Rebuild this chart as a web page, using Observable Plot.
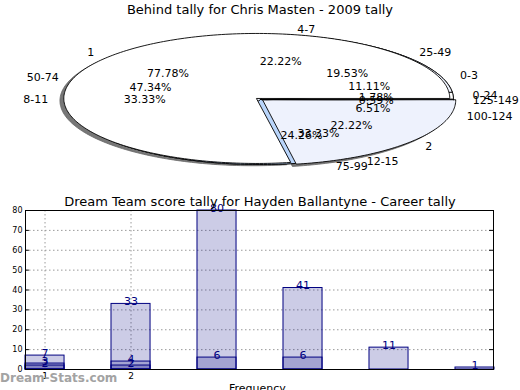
<!DOCTYPE html>
<html>
<head>
<meta charset="utf-8">
<script src="https://cdn.jsdelivr.net/npm/d3@7"></script>
<script src="https://cdn.jsdelivr.net/npm/@observablehq/plot@0.6"></script>
<style>
  body { margin: 0; background: white; }
  #wrap { position: relative; width: 520px; height: 390px; overflow: hidden; background: white; font-family: "DejaVu Sans", sans-serif; }
  #wrap svg { position: absolute; left: 0; overflow: visible; }
  .title { position: absolute; left: 0; width: 520px; text-align: center; font-size: 13px; color: #000; }
</style>
</head>
<body>
<div id="wrap">
  <div id="pie"></div>
  <div id="bar"></div>
  <div class="title" style="top:2px">Behind tally for Chris Masten - 2009 tally</div>
  <div class="title" style="top:194px">Dream Team score tally for Hayden Ballantyne - Career tally</div>
  <div style="position:absolute;left:229px;top:382px;font-size:11px;">Frequency</div>
  <div style="position:absolute;left:0px;top:371px;font-size:12px;font-weight:bold;color:#a3a3a3;">Dream-Stats.com</div>
</div>
<script>
// ---------- Data: pie chart (three overlaid pies) ----------
const pieALabels = ["1", "2"];
const pieAValues = [77.78, 22.22];
const pieBLabels = ["0-3", "4-7", "8-11", "12-15"];
const pieBValues = [11.11, 22.22, 33.33, 33.33];
const pieCLabels = ["0-24", "25-49", "50-74", "75-99", "100-124", "125-149"];
const pieCValues = [1.78, 19.53, 47.34, 24.26, 6.51, 0.59];

// ---------- Data: bar chart ----------
const barX = [1, 2, 3, 4, 5, 6];
const tallyAll = [7, 33, 80, 41, 11, 1];
const tallyMid = [3, 4, 6, 6, 0, 0];
const tallyLow = [2, 2, 0, 0, 0, 0];
const yTicks = [0, 10, 20, 30, 40, 50, 60, 70, 80];
const xTicks = [1, 2];

// ---------- Pie geometry helpers ----------
function slices(pie, labels, values, explode, fills) {
  const total = d3.sum(values);
  let a0 = 0;
  return labels.map((lab, i) => {
    const a1 = a0 + values[i] / total * 2 * Math.PI;
    const mid = (a0 + a1) / 2;
    const e = explode[i] || 0;
    const s = {pie, id: pie + i, label: lab, pct: (values[i] / total * 100).toFixed(2) + "%",
      a0, a1, mid, cx: e * Math.cos(mid), cy: e * Math.sin(mid), fill: fills[i]};
    a0 = a1;
    return s;
  });
}
function polygon(s, r, ox = 0, oy = 0) {
  const pts = [{id: s.id, x: s.cx + ox, y: s.cy + oy}];
  const n = Math.max(2, Math.ceil((s.a1 - s.a0) / 0.02));
  for (let k = 0; k <= n; k++) {
    const a = s.a0 + (s.a1 - s.a0) * k / n;
    pts.push({id: s.id, x: s.cx + ox + r * Math.cos(a), y: s.cy + oy + r * Math.sin(a)});
  }
  return pts;
}
const LB = "#eef2fd", BLUE = "#b9d5fb";
const sB = slices("B", pieBLabels, pieBValues, [], [LB, LB, LB, LB]);
const sC = slices("C", pieCLabels, pieCValues, [], ["white", LB, LB, BLUE, LB, LB]);
const sA = slices("A", pieALabels, pieAValues, [0.025, 0.015], ["white", LB]);

const shadowPts = sA.flatMap(s => polygon(s, 1, -0.02, -0.035));
const fillGroups = [];
for (const group of [sB, sC, sA]) {
  for (const s of group) fillGroups.push({fill: s.fill, pts: polygon(s, 1)});
}
const allSlices = [...sA, ...sB, ...sC];
const nameLabels = allSlices.map(s => ({
  label: s.label, x: s.cx + 1.1 * Math.cos(s.mid), y: s.cy + 1.1 * Math.sin(s.mid)
}));
const pctLabels = allSlices.map(s => ({
  label: s.pct, x: s.cx + 0.6 * Math.cos(s.mid), y: s.cy + 0.6 * Math.sin(s.mid)
}));

const cxPix = 260, cyPix = 99, rx = 193, ry = 65;
const pieMarks = [
  Plot.line(shadowPts, {x: "x", y: "y", z: "id", curve: "linear-closed", fill: "#4a4a4a", fillOpacity: 0.75, stroke: "#666", strokeWidth: 0.8})
];
for (const g of fillGroups) {
  pieMarks.push(Plot.line(g.pts, {x: "x", y: "y", z: "id", curve: "linear-closed", fill: g.fill, stroke: "black", strokeWidth: 0.9}));
}
pieMarks.push(
  Plot.text(nameLabels.filter(d => d.x < 0), {x: "x", y: "y", text: "label", textAnchor: "end", fontSize: 11, fill: "black"}),
  Plot.text(nameLabels.filter(d => d.x >= 0), {x: "x", y: "y", text: "label", textAnchor: "start", fontSize: 11, fill: "black"}),
  Plot.text(pctLabels, {x: "x", y: "y", text: "label", textAnchor: "middle", fontSize: 11, fill: "black"})
);

const pie = Plot.plot({
  width: 520, height: 190,
  margin: 0,
  style: {fontFamily: "DejaVu Sans", background: "transparent"},
  x: {domain: [-1, 1], range: [cxPix - rx, cxPix + rx], axis: null},
  y: {domain: [-1, 1], range: [cyPix + ry, cyPix - ry], axis: null},
  marks: pieMarks
});
pie.style.top = "0px";
document.getElementById("pie").appendChild(pie);

// ---------- Bar chart ----------
const rows = [];
for (const series of [tallyAll, tallyMid, tallyLow]) {
  series.forEach((v, i) => { if (v > 0) rows.push({x: barX[i], v}); });
}
const xmin = 0.773, xmax = 6.215, hw = 0.227;
const bar = Plot.plot({
  width: 520, height: 200,
  marginLeft: 25, marginRight: 27, marginTop: 20, marginBottom: 21,
  style: {fontFamily: "DejaVu Sans", background: "transparent"},
  x: {domain: [xmin, xmax], axis: null},
  y: {domain: [0, 80], axis: null},
  marks: [
    Plot.gridY(yTicks, {stroke: "#9a9a9a", strokeOpacity: 1, strokeDasharray: "1.5,2.5"}),
    Plot.gridX(xTicks, {stroke: "#9a9a9a", strokeOpacity: 1, strokeDasharray: "1.5,2.5"}),
    Plot.ruleY(yTicks, {x1: xmin, x2: xmin + 0.045, stroke: "black"}),
    Plot.ruleY(yTicks, {x1: xmax - 0.045, x2: xmax, stroke: "black"}),
    Plot.rectY(rows, {x1: d => d.x - hw, x2: d => d.x + hw, y1: 0, y2: "v", fill: "#000080", fillOpacity: 0.2, stroke: "#000080", strokeWidth: 1}),
    Plot.text(rows, {x: "x", y: "v", text: d => String(d.v), lineAnchor: "bottom", dy: 1, fill: "#000080", fontSize: 11}),
    Plot.frame({stroke: "black"}),
    Plot.axisY(yTicks, {tickSize: 0, tickPadding: 3, fontSize: 8, label: null, color: "black"}),
    Plot.axisX(xTicks, {tickSize: 0, tickPadding: 3, fontSize: 9, label: null, color: "black"})
  ]
});
bar.style.top = "190px";
document.getElementById("bar").appendChild(bar);
</script>
</body>
</html>
